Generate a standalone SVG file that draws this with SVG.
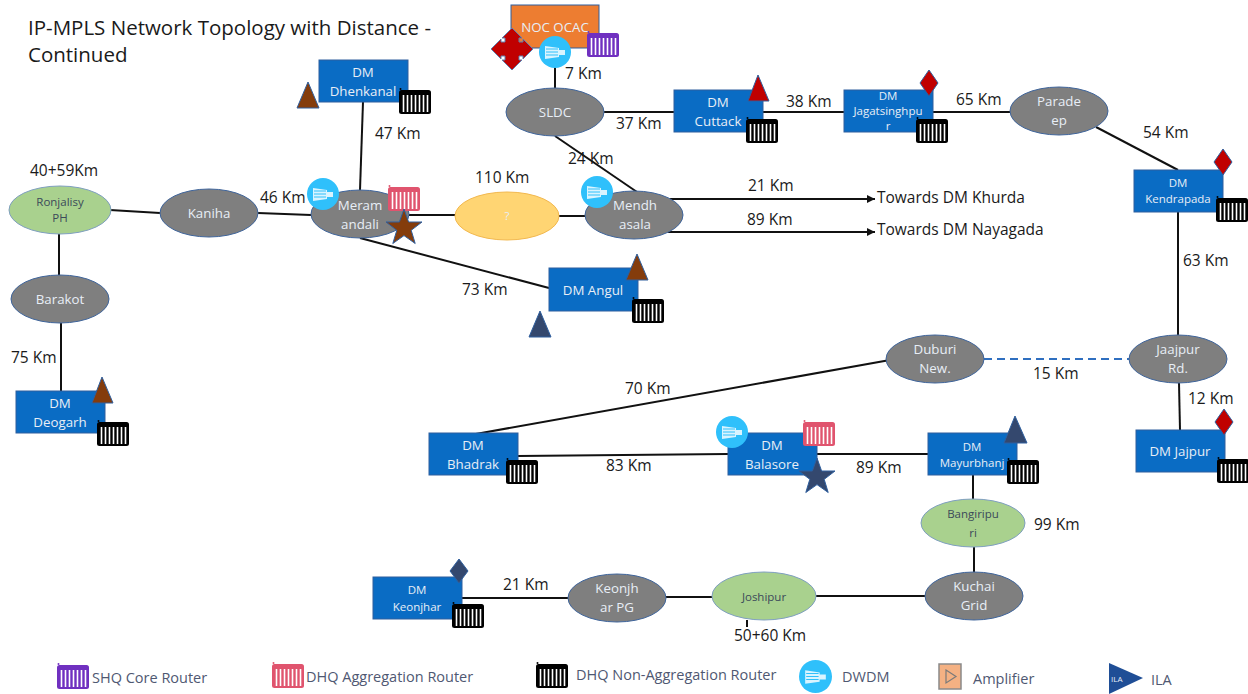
<svg xmlns="http://www.w3.org/2000/svg" width="1248" height="694" viewBox="0 0 1248 694">
<style>
text{font-family:"Open Sans","Liberation Sans",sans-serif}
.lb{font-size:15.5px;fill:#1a1a1a}
.t{font-size:13.3px;fill:#e8eef6;text-anchor:middle}
.s{font-size:11.5px}
.lg{font-size:14.5px;fill:#4f5872}
.dm{fill:#0a6cc4;stroke:#2f5f9e;stroke-width:1}
.gy{fill:#7f7f7f;stroke:#3f659c;stroke-width:1}
.gn{fill:#a9d18e;stroke:#7f9fc0;stroke-width:1}
.ln{fill:none;stroke:#111;stroke-width:2}
</style>
<defs>
<marker id="a" markerUnits="userSpaceOnUse" markerWidth="9" markerHeight="9" refX="8" refY="4" orient="auto"><path d="M0 0L8 4L0 8Z" fill="#111"/></marker>
<symbol id="r" viewBox="0 0 32 26" overflow="visible">
<rect x="0" y="2" width="32" height="24" rx="2.5" fill="currentColor"/>
<circle cx="1.5" cy="1" r="1" fill="currentColor"/>
<path d="M4.500 7V24M8.500 7V24M12.500 7V24M16.500 7V24M20.500 7V24M24.500 7V24M28.500 7V24" stroke="#fff" stroke-width="1.6" fill="none"/>
</symbol>
<symbol id="d" viewBox="0 0 32 32">
<circle cx="16" cy="16" r="16" fill="#2fc0fb"/>
<path d="M6 10L20 12V14H26V19H20V21L6 23Z" fill="#d9f4ff"/>
<path d="M7 13H19M7 16H19M7 19H19" stroke="#2fc0fb" stroke-width="1"/>
</symbol>
<polygon id="tb" points="0,-26 11,0 -11,0" fill="#843c0c" stroke="#2f5f9e"/>
<polygon id="tn" points="0,-26 11,0 -11,0" fill="#34486e" stroke="#2f5f9e"/>
<polygon id="dia" points="0,-13 9,0 0,13 -9,0" fill="#c00000" stroke="#2f5f9e"/>
<polygon id="star" points="0,-19 4.6,-6 18,-6 7.2,2.3 11.2,15.5 0,7.6 -11.2,15.5 -7.2,2.3 -18,-6 -4.6,-6"/>
</defs>

<text x="28" y="35" style="font-size:20.5px" fill="#1a1a1a">IP-MPLS Network Topology with Distance -</text>
<text x="28" y="62" style="font-size:20.5px" fill="#1a1a1a">Continued</text>

<g id="connectors">
<path class="ln" d="M555 60V90"/>
<path class="ln" d="M604 112H674"/>
<path class="ln" d="M763 112H844"/>
<path class="ln" d="M933 112H1010"/>
<path class="ln" d="M1096 127L1178 170"/>
<path class="ln" d="M1178 212L1178 335"/>
<path class="ln" d="M1179 383L1180 430"/>
<path d="M984 359H1129" fill="none" stroke="#2f6fc0" stroke-width="2" stroke-dasharray="8 5"/>
<path class="ln" d="M890 360L473 434.500"/>
<path class="ln" d="M518 456L728 454"/>
<path class="ln" d="M817 454H928"/>
<path class="ln" d="M973 475V499"/>
<path class="ln" d="M974 547V572"/>
<path class="ln" d="M925 596H816"/>
<path class="ln" d="M712 597H666"/>
<path class="ln" d="M568 598H462"/>
<path class="ln" d="M747 620V627"/>
<path class="ln" d="M555 136L637 192"/>
<path class="ln" d="M670 199H875" marker-end="url(#a)"/>
<path class="ln" d="M668 232H875" marker-end="url(#a)"/>
<path class="ln" d="M559 216H585"/>
<path class="ln" d="M409 215H455"/>
<path class="ln" d="M258 213L311 215"/>
<path class="ln" d="M110 210L160 213"/>
<path class="ln" d="M59 234V275"/>
<path class="ln" d="M61 323V391"/>
<path class="ln" d="M363 102L360 190"/>
<path class="ln" d="M360 238L549 288"/>
</g>

<g id="noc"><rect x="511" y="5" width="88" height="43" fill="#ed7d31" stroke="#2f5f9e"/><text class="t" x="555" y="32">NOC OCAC</text>
<polygon transform="translate(512 49)" points="0,-21 10,-11 7,-11 7,-7 11,-7 11,-10 21,0 11,10 11,7 7,7 7,11 10,11 0,21 -10,11 -7,11 -7,7 -11,7 -11,10 -21,0 -11,-10 -11,-7 -7,-7 -7,-11 -10,-11" fill="#c00000" stroke="#5f7fae"/>
<use href="#r" x="587" y="31" width="32" height="26" color="#7030c0"/>
<use href="#d" x="539" y="36" width="32" height="32"/></g>

<g id="sldc"><ellipse class="gy" cx="555" cy="112" rx="49" ry="24"/><text class="t" x="555" y="117">SLDC</text></g>

<g id="cuttack"><rect class="dm" x="674" y="90" width="89" height="42"/><text class="t" x="718" y="107">DM</text><text class="t" x="718" y="126">Cuttack</text>
<use href="#r" x="746" y="117" width="32" height="26" color="#000"/>
<polygon points="758,75 769,101 748,101" fill="#c00000" stroke="#2f5f9e"/></g>

<g id="jagatsinghpur"><rect class="dm" x="844" y="90" width="89" height="42"/><text class="t s" x="888" y="100">DM</text><text class="t s" x="888" y="115">Jagatsinghpu</text><text class="t s" x="888" y="130">r</text>
<use href="#r" x="916" y="117" width="32" height="26" color="#000"/>
<use href="#dia" x="929" y="83"/></g>

<g id="parade"><ellipse class="gy" cx="1059" cy="111" rx="49" ry="24"/><text class="t" x="1059" y="106">Parade</text><text class="t" x="1059" y="125">ep</text></g>

<g id="kendrapada"><rect class="dm" x="1134" y="170" width="89" height="42"/><text class="t s" x="1178" y="187">DM</text><text class="t s" x="1178" y="203">Kendrapada</text>
<use href="#r" x="1216" y="196" width="32" height="26" color="#000"/>
<use href="#dia" x="1223" y="162"/></g>

<g id="jaajpur"><ellipse class="gy" cx="1178" cy="359" rx="49" ry="24"/><text class="t" x="1178" y="354">Jaajpur</text><text class="t" x="1178" y="373">Rd.</text></g>

<g id="jajpur"><rect class="dm" x="1136" y="430" width="89" height="42"/><text class="t" x="1180" y="456">DM Jajpur</text>
<use href="#r" x="1217" y="457" width="32" height="26" color="#000"/>
<use href="#dia" x="1224" y="422"/></g>

<g id="duburi"><ellipse class="gy" cx="935" cy="359" rx="49" ry="24"/><text class="t" x="935" y="354">Duburi</text><text class="t" x="935" y="373">New.</text></g>

<g id="mayurbhanj"><rect class="dm" x="928" y="433" width="89" height="42"/><text class="t s" x="972" y="451">DM</text><text class="t s" x="972" y="467">Mayurbhanj</text>
<use href="#r" x="1007" y="458" width="32" height="26" color="#000"/>
<polygon points="1015,416 1027,443 1004,443" fill="#34486e" stroke="#2f5f9e"/></g>

<g id="balasore"><rect class="dm" x="728" y="433" width="89" height="42"/><text class="t" x="772" y="450">DM</text><text class="t" x="772" y="469">Balasore</text>
<use href="#r" x="803" y="420" width="32" height="26" color="#e0546e"/>
<use href="#d" x="716" y="416" width="32" height="32"/>
<use href="#star" x="817" y="477" fill="#34486e" stroke="#2f5f9e"/></g>

<g id="bhadrak"><rect class="dm" x="429" y="433" width="89" height="42"/><text class="t" x="473" y="450">DM</text><text class="t" x="473" y="469">Bhadrak</text>
<use href="#r" x="506" y="458" width="32" height="26" color="#000"/></g>

<g id="bangiripuri"><ellipse class="gn" cx="973" cy="523" rx="52" ry="24"/><text class="t s" x="973" y="518" style="fill:#3b4a5a">Bangiripu</text><text class="t s" x="973" y="537" style="fill:#3b4a5a">ri</text></g>

<g id="kuchai"><ellipse class="gy" cx="974" cy="596" rx="49" ry="24"/><text class="t" x="974" y="591">Kuchai</text><text class="t" x="974" y="610">Grid</text></g>

<g id="joshipur"><ellipse class="gn" cx="764" cy="596" rx="52" ry="24"/><text class="t s" x="764" y="601" style="fill:#3b4a5a">Joshipur</text></g>

<g id="keonjharpg"><ellipse class="gy" cx="617" cy="598" rx="49" ry="24"/><text class="t" x="617" y="593">Keonjh</text><text class="t" x="617" y="612">ar PG</text></g>

<g id="keonjhar"><rect class="dm" x="373" y="577" width="89" height="42"/><text class="t s" x="417" y="594">DM</text><text class="t s" x="417" y="611">Keonjhar</text>
<use href="#r" x="452" y="602" width="32" height="26" color="#000"/>
<polygon points="459,559 468,571 459,583 450,571" fill="#34486e" stroke="#2f5f9e"/></g>

<g id="deogarh"><rect class="dm" x="16" y="391" width="89" height="42"/><text class="t" x="60" y="408">DM</text><text class="t" x="60" y="427">Deogarh</text>
<use href="#r" x="97" y="420" width="32" height="26" color="#000"/>
<polygon points="102,377 113,403 92,403" fill="#843c0c" stroke="#2f5f9e"/></g>

<g id="barakot"><ellipse class="gy" cx="60" cy="299" rx="49" ry="24"/><text class="t" x="60" y="304">Barakot</text></g>

<g id="ronjalisy"><ellipse class="gn" cx="60" cy="210" rx="51" ry="24"/><text class="t s" x="60" y="206" style="fill:#3b4a5a">Ronjalisy</text><text class="t s" x="60" y="222" style="fill:#3b4a5a">PH</text></g>

<g id="kaniha"><ellipse class="gy" cx="209" cy="213" rx="49" ry="24"/><text class="t" x="209" y="218">Kaniha</text></g>

<g id="meramandali"><ellipse class="gy" cx="360" cy="214" rx="49" ry="24"/><text class="t" x="360" y="210">Meram</text><text class="t" x="360" y="229">andali</text>
<use href="#r" x="388" y="185" width="32" height="26" color="#e0546e"/>
<use href="#d" x="307" y="178" width="32" height="32"/>
<use href="#star" x="404" y="228" fill="#843c0c" stroke="#2f5f9e"/></g>

<g id="unknown"><ellipse cx="507" cy="216" rx="52" ry="24" fill="#ffd573" stroke="#f2b84f"/><text class="t s" x="507" y="220">?</text></g>

<g id="mendhasala"><ellipse class="gy" cx="634" cy="215" rx="49" ry="24"/><text class="t" x="635" y="210">Mendh</text><text class="t" x="635" y="229">asala</text>
<use href="#d" x="581" y="176" width="32" height="32"/></g>

<g id="angul"><rect class="dm" x="549" y="268" width="89" height="43"/><text class="t" x="593" y="295">DM Angul</text>
<use href="#r" x="632" y="297" width="32" height="26" color="#000"/>
<use href="#tb" x="637" y="280"/></g>
<g id="ila-marker"><use href="#tn" x="540" y="337"/></g>

<g id="dhenkanal"><rect class="dm" x="319" y="60" width="89" height="42"/><text class="t" x="363" y="77">DM</text><text class="t" x="363" y="96">Dhenkanal</text>
<use href="#r" x="399" y="88" width="32" height="26" color="#000"/>
<use href="#tb" x="308" y="108"/></g>

<g id="labels">
<text class="lb" x="565" y="79">7 Km</text>
<text class="lb" x="375" y="139">47 Km</text>
<text class="lb" x="616" y="129">37 Km</text>
<text class="lb" x="786" y="107">38 Km</text>
<text class="lb" x="956" y="105">65 Km</text>
<text class="lb" x="1143" y="138">54 Km</text>
<text class="lb" x="568" y="164">24 Km</text>
<text class="lb" x="30" y="176">40+59Km</text>
<text class="lb" x="260" y="203">46 Km</text>
<text class="lb" x="475" y="183">110 Km</text>
<text class="lb" x="748" y="191">21 Km</text>
<text class="lb" x="747" y="225">89 Km</text>
<text class="lb" x="877" y="203">Towards DM Khurda</text>
<text class="lb" x="877" y="235">Towards DM Nayagada</text>
<text class="lb" x="1183" y="266">63 Km</text>
<text class="lb" x="462" y="295">73 Km</text>
<text class="lb" x="11" y="363">75 Km</text>
<text class="lb" x="1033" y="379">15 Km</text>
<text class="lb" x="625" y="394">70 Km</text>
<text class="lb" x="1188" y="404">12 Km</text>
<text class="lb" x="606" y="471">83 Km</text>
<text class="lb" x="856" y="473">89 Km</text>
<text class="lb" x="1034" y="530">99 Km</text>
<text class="lb" x="503" y="590">21 Km</text>
<text class="lb" x="734" y="641">50+60 Km</text>
</g>

<g id="legend">
<use href="#r" x="57" y="663" width="32" height="26" color="#7030c0"/>
<text class="lg" x="92" y="683">SHQ Core Router</text>
<use href="#r" x="272" y="662" width="32" height="26" color="#e0546e"/>
<text class="lg" x="306" y="682">DHQ Aggregation Router</text>
<use href="#r" x="536" y="662" width="32" height="26" color="#000"/>
<text class="lg" x="576" y="680">DHQ Non-Aggregation Router</text>
<use href="#d" x="799" y="660" width="33" height="33"/>
<text class="lg" x="842" y="682">DWDM</text>
<rect x="939" y="664" width="22" height="25" fill="#f4b183" stroke="#8a8a8a" stroke-width="1.5"/>
<path d="M946 670L956 676.500L946 683Z" fill="none" stroke="#7a7a7a" stroke-width="1.2"/>
<text class="lg" x="973" y="684">Amplifier</text>
<polygon points="1109,663 1143,678 1109,694" fill="#1f4e96"/>
<text x="1111" y="682" style="font-size:8px" fill="#e8eef6">ILA</text>
<text class="lg" x="1151" y="685">ILA</text>
</g>
</svg>
